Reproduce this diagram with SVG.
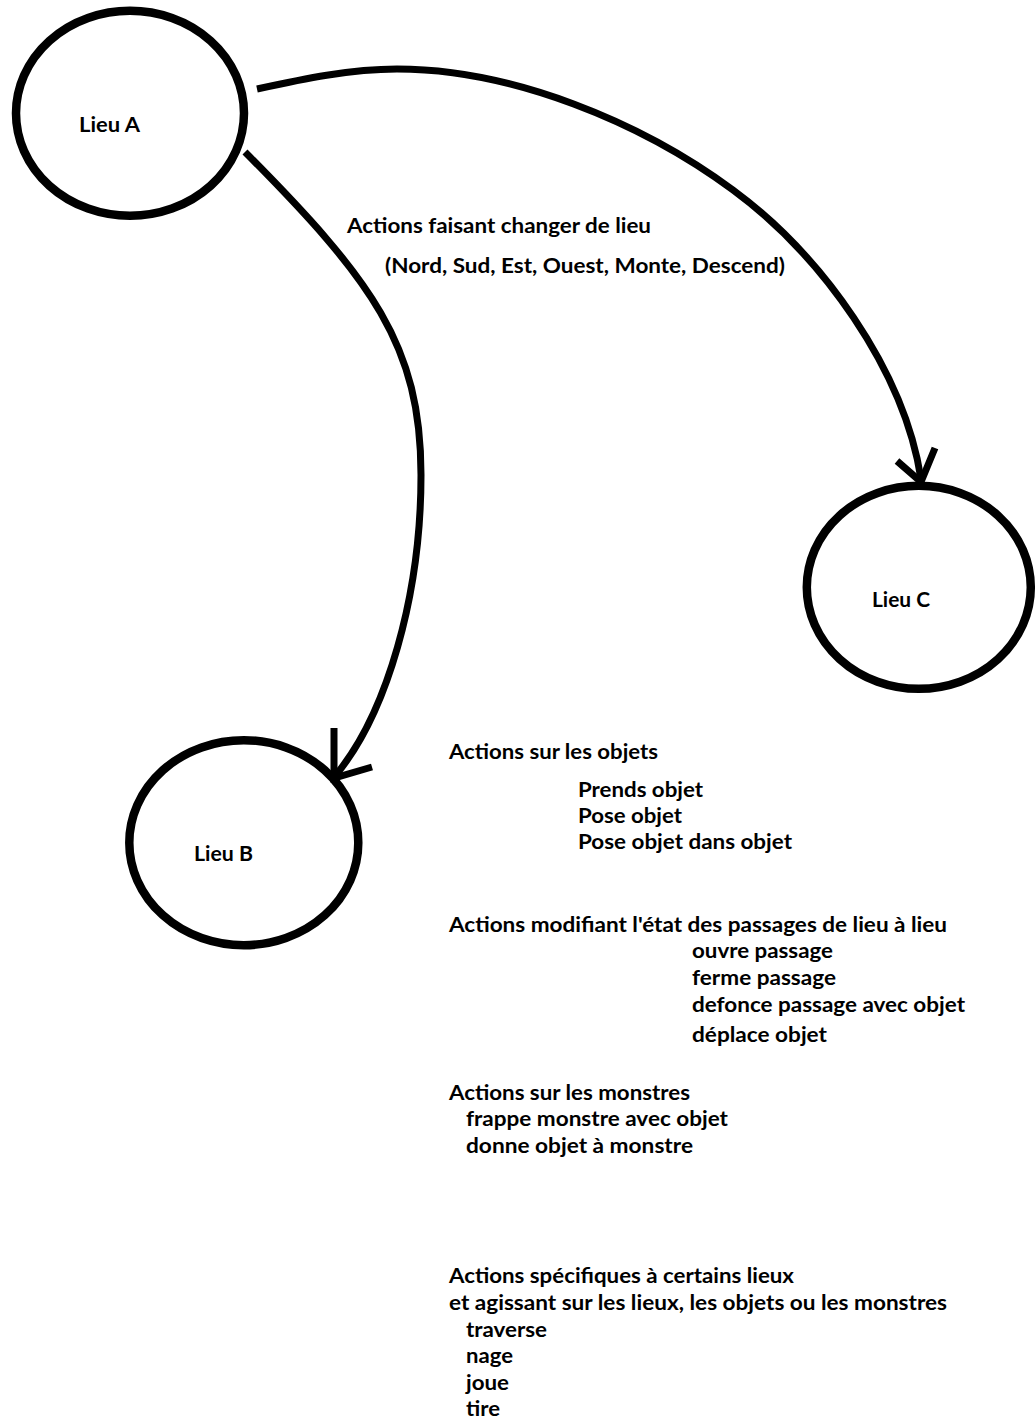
<svg xmlns="http://www.w3.org/2000/svg" width="1036" height="1418" viewBox="0 0 1036 1418">
<style>
.node{fill:#fff;stroke:#000;stroke-width:8.5}
.conn{fill:none;stroke:#000;stroke-width:7}
.head{fill:none;stroke:#000;stroke-width:7;stroke-linejoin:miter;stroke-miterlimit:10}
.t{font-family:Lato,"Liberation Sans",sans-serif;font-weight:bold;font-size:21px;fill:#000}
</style>
<rect width="1036" height="1418" fill="#fff"/>
<g id="lieuA">
<ellipse class="node" cx="130" cy="113.3" rx="114" ry="102.5"/>
<text class="t" x="79" y="132" textLength="61" lengthAdjust="spacingAndGlyphs">Lieu A</text>
</g>
<g id="lieuB">
<ellipse class="node" cx="243.8" cy="842.7" rx="114.5" ry="102.5"/>
<text class="t" x="194" y="861" textLength="59" lengthAdjust="spacingAndGlyphs">Lieu B</text>
</g>
<g id="lieuC">
<ellipse class="node" cx="918.8" cy="587.3" rx="112" ry="101.5"/>
<text class="t" x="872" y="607" textLength="58" lengthAdjust="spacingAndGlyphs">Lieu C</text>
</g>
<g id="connectors">
<path class="conn" d="M245,152 C372,280 421,345 421,475 C421,595 387,714 335,776"/>
<path class="head" d="M334,728 L334,778 L372,767"/>
<path class="conn" d="M257,89 C303,79 350,69 397,69 C512,69 641,122 733,190 C821,255 904,369 921,479"/>
<path class="head" d="M897,461 L921,482 L935,448"/>
</g>
<g id="labels">
<text class="t" x="347" y="233" textLength="304" lengthAdjust="spacingAndGlyphs">Actions faisant changer de lieu</text>
<text class="t" x="385" y="273" textLength="400" lengthAdjust="spacingAndGlyphs">(Nord, Sud, Est, Ouest, Monte, Descend)</text>
<text class="t" x="449" y="759" textLength="209" lengthAdjust="spacingAndGlyphs">Actions sur les objets</text>
<text class="t" x="578" y="797" textLength="125" lengthAdjust="spacingAndGlyphs">Prends objet</text>
<text class="t" x="578" y="823" textLength="104" lengthAdjust="spacingAndGlyphs">Pose objet</text>
<text class="t" x="578" y="849" textLength="214" lengthAdjust="spacingAndGlyphs">Pose objet dans objet</text>
<text class="t" x="449" y="932" textLength="498" lengthAdjust="spacingAndGlyphs">Actions modifiant l'état des passages de lieu à lieu</text>
<text class="t" x="692" y="958" textLength="141" lengthAdjust="spacingAndGlyphs">ouvre passage</text>
<text class="t" x="692" y="985" textLength="144" lengthAdjust="spacingAndGlyphs">ferme passage</text>
<text class="t" x="692" y="1012" textLength="273" lengthAdjust="spacingAndGlyphs">defonce passage avec objet</text>
<text class="t" x="692" y="1042" textLength="135" lengthAdjust="spacingAndGlyphs">déplace objet</text>
<text class="t" x="449" y="1100" textLength="241" lengthAdjust="spacingAndGlyphs">Actions sur les monstres</text>
<text class="t" x="466" y="1126" textLength="262" lengthAdjust="spacingAndGlyphs">frappe monstre avec objet</text>
<text class="t" x="466" y="1153" textLength="227" lengthAdjust="spacingAndGlyphs">donne objet à monstre</text>
<text class="t" x="449" y="1283" textLength="345" lengthAdjust="spacingAndGlyphs">Actions spécifiques à certains lieux</text>
<text class="t" x="449" y="1310" textLength="498" lengthAdjust="spacingAndGlyphs">et agissant sur les lieux, les objets ou les monstres</text>
<text class="t" x="466" y="1337" textLength="81" lengthAdjust="spacingAndGlyphs">traverse</text>
<text class="t" x="466" y="1363" textLength="47" lengthAdjust="spacingAndGlyphs">nage</text>
<text class="t" x="466" y="1390" textLength="43" lengthAdjust="spacingAndGlyphs">joue</text>
<text class="t" x="466" y="1416" textLength="34" lengthAdjust="spacingAndGlyphs">tire</text>
</g>
</svg>
